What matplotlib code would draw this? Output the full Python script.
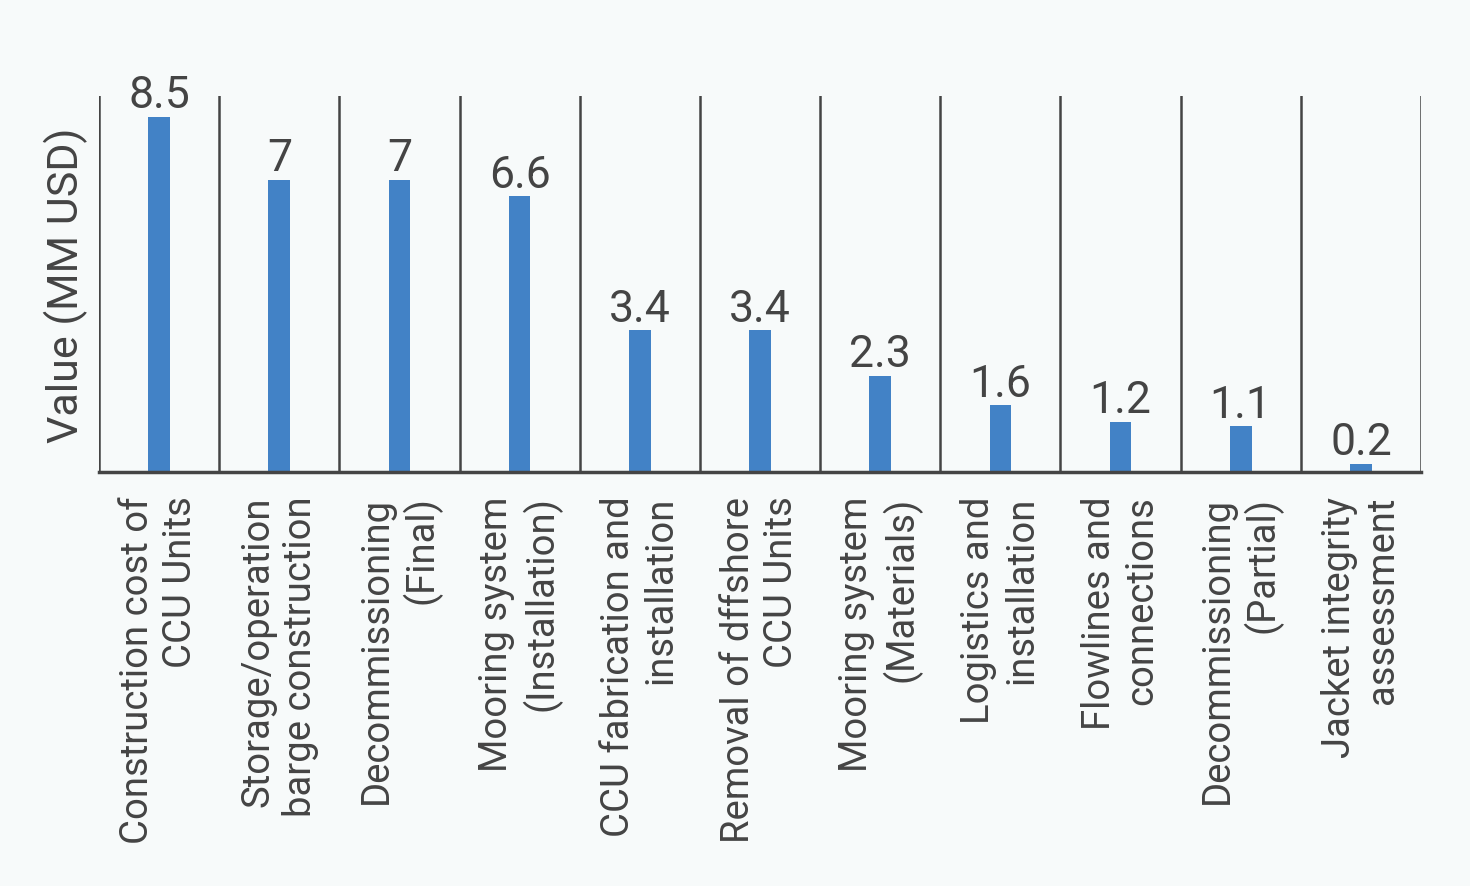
import matplotlib.pyplot as plt
import numpy as np

categories = [
    "Construction cost of\nCCU Units",
    "Storage/operation\nbarge construction",
    "Decommissioning\n(Final)",
    "Mooring system\n(Installation)",
    "CCU fabrication and\ninstallation",
    "Removal of dffshore\nCCU Units",
    "Mooring system\n(Materials)",
    "Logistics and\ninstallation",
    "Flowlines and\nconnections",
    "Decommissioning\n(Partial)",
    "Jacket integrity\nassessment",
]
values = [8.5, 7, 7, 6.6, 3.4, 3.4, 2.3, 1.6, 1.2, 1.1, 0.2]
value_labels = ["8.5", "7", "7", "6.6", "3.4", "3.4", "2.3", "1.6", "1.2", "1.1", "0.2"]

plt.rcParams['font.family'] = ['Roboto', 'DejaVu Sans']
bg = '#f7fafa'
txt = '#444444'

fig = plt.figure(figsize=(14.7, 8.87), dpi=100, facecolor=bg)
ax = fig.add_axes([99 / 1470, 1 - 473 / 887, 1322 / 1470, 376 / 887], facecolor=bg)

x = np.arange(len(categories))
ax.bar(x, values, width=0.18, color='#4282c6')
for xi, v, lab in zip(x, values, value_labels):
    ax.text(xi, v + 0.01, lab, ha='center', va='bottom', fontsize=32, color=txt)

ax.set_xlim(-0.5, len(categories) - 0.5)
ax.set_ylim(0, 9)
for b in np.arange(-0.5, len(categories), 1):
    ax.axvline(b, color=txt, lw=1.8, zorder=0)

for s in ['top', 'right', 'left']:
    ax.spines[s].set_visible(False)
ax.spines['bottom'].set_color(txt)
ax.spines['bottom'].set_linewidth(2.5)
ax.set_yticks([])
ax.set_xticks(x)
ax.set_xticklabels(categories, rotation=90, fontsize=27.5, color=txt,
                   ha='center', va='top', multialignment='right')
ax.tick_params(axis='x', length=0, pad=17)
ax.set_ylabel("Value (MM USD)", fontsize=31, color=txt, labelpad=8)

fig.savefig('out.png', dpi=100, facecolor=bg)
